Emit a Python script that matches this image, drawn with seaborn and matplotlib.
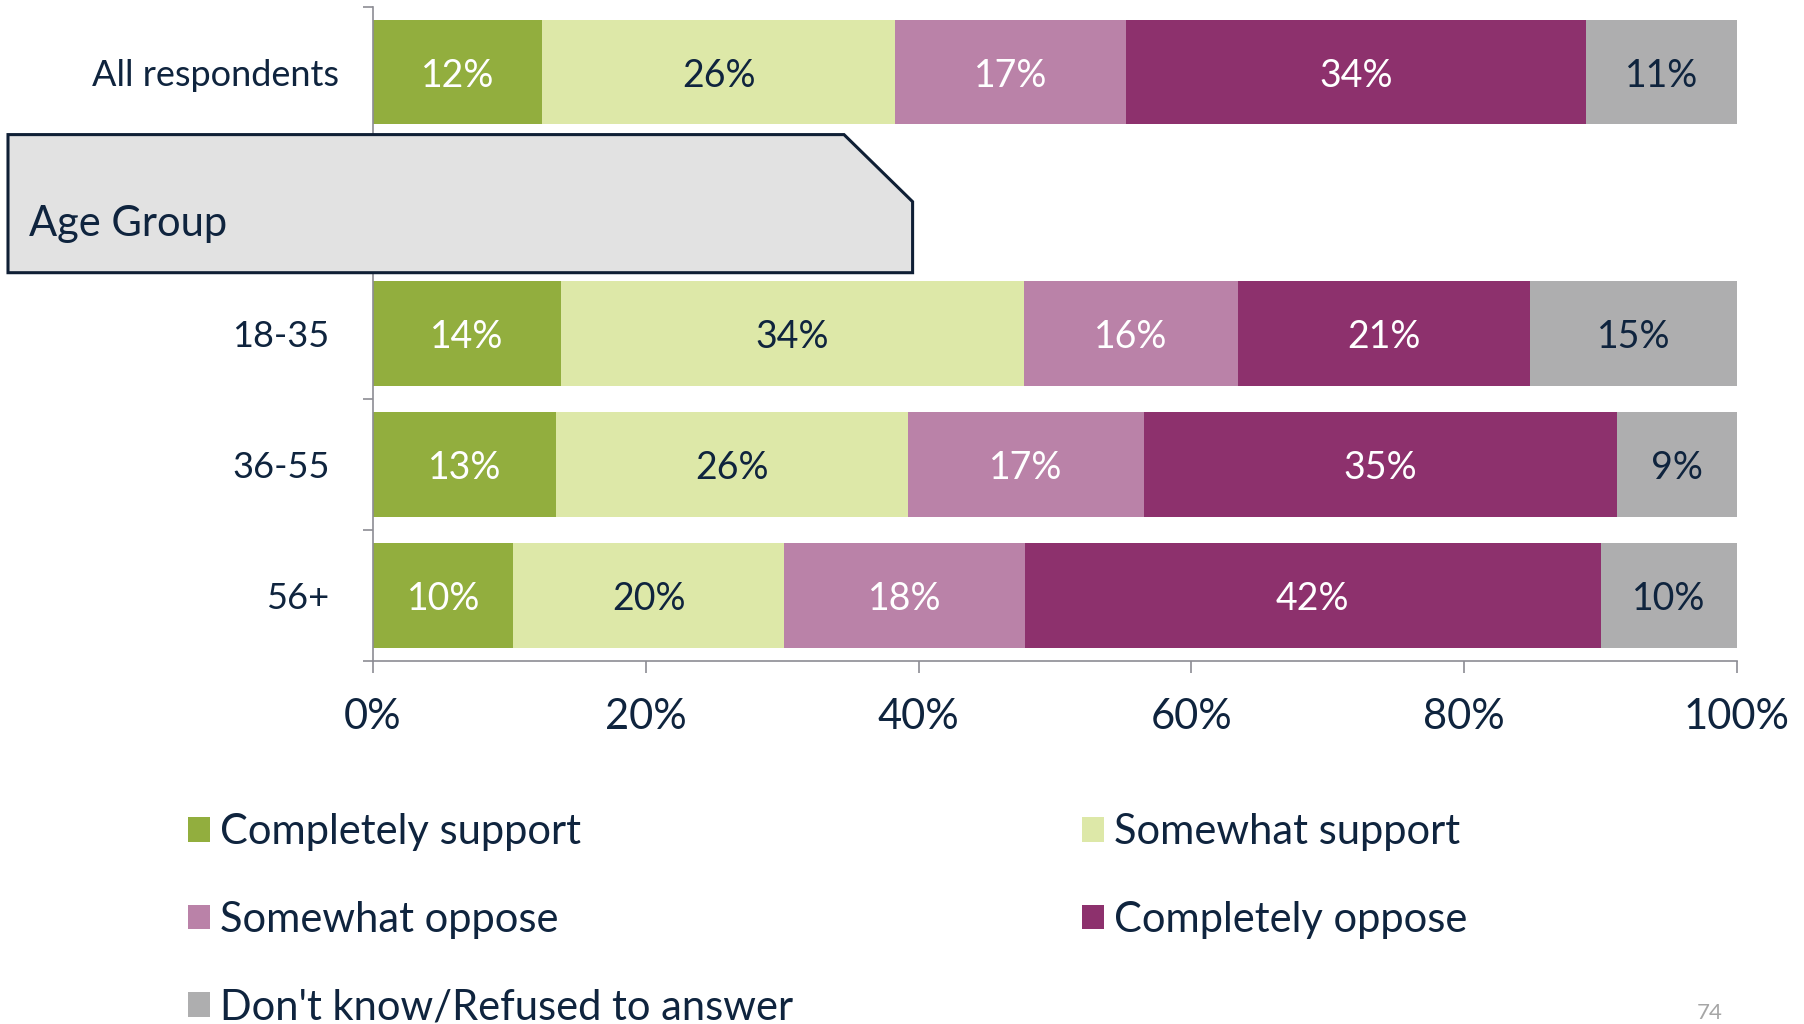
import matplotlib
matplotlib.use("Agg")
import matplotlib.pyplot as plt
import seaborn as sns
import numpy as np
import pandas as pd
from matplotlib.patches import Polygon, Patch
from matplotlib.ticker import FixedLocator

# ---------------- data ----------------
groups = ["All respondents", "18-35", "36-55", "56+"]
order = ["All respondents", " ", "18-35", "36-55", "56+"]
series = ["Completely support", "Somewhat support", "Somewhat oppose",
          "Completely oppose", "Don't know/Refused to answer"]
completely_support = [12.4, 13.8, 13.4, 10.3]
somewhat_support = [25.9, 33.9, 25.8, 19.8]
somewhat_oppose = [16.9, 15.7, 17.3, 17.7]
completely_oppose = [33.7, 21.4, 34.7, 42.2]
dont_know = [11.1, 15.2, 8.8, 10.0]
xticks = [0, 20, 40, 60, 80, 100]
xtick_labels = ["0%", "20%", "40%", "60%", "80%", "100%"]
section_title = "Age Group"
page_number = "74"

colors = ["#92AE3E", "#DDE8A8", "#BA82A8", "#8D316D", "#AEAEAF"]
label_colors = ["white", "#0F243E", "white", "white", "#0F243E"]
NAVY = "#0F243E"
GRAY = "#8C8C94"

values = [completely_support, somewhat_support, somewhat_oppose,
          completely_oppose, dont_know]

rows = []
for s, vals in zip(series, values):
    for g, v in zip(groups, vals):
        rows.append({"group": g, "series": s, "value": v})
df = pd.DataFrame(rows)
df["series"] = pd.Categorical(df["series"], categories=series, ordered=True)
df = df.sort_values(["group", "series"])
df["cum"] = df.groupby("group")["value"].cumsum()
df["start"] = df["cum"] - df["value"]

# ---------------- figure ----------------
sns.set_theme(style="white")
plt.rcParams["font.family"] = ["Lato", "DejaVu Sans"]

W, H = 1804, 1024
fig = plt.figure(figsize=(W / 100, H / 100), dpi=100)
ax_left, ax_right, ax_top, ax_bottom = 373, 1737, 6.7, 660.7
ax = fig.add_axes([ax_left / W, 1 - ax_bottom / H,
                   (ax_right - ax_left) / W, (ax_bottom - ax_top) / H])

for s, c in reversed(list(zip(series, colors))):
    sub = df[df["series"] == s]
    sns.barplot(data=sub, x="cum", y="group", order=order, color=c,
                saturation=1, width=0.8, orient="h", errorbar=None,
                linewidth=0, ax=ax)

for _, r in df.iterrows():
    j = series.index(r["series"])
    ypos = order.index(r["group"])
    ax.text(r["start"] + r["value"] / 2, ypos, f"{round(r['value'])}%",
            ha="center", va="center_baseline", fontsize=27,
            color=label_colors[j])

ax.set_xlim(0, 100)
ax.set_ylim(4.5, -0.5)
ax.set_xlabel("")
ax.set_ylabel("")
ax.set_xticks(xticks)
ax.set_xticklabels(xtick_labels)
ax.yaxis.set_minor_locator(FixedLocator(np.arange(-0.5, 5.0, 1.0)))

for sp in ["top", "right"]:
    ax.spines[sp].set_visible(False)
for sp in ["left", "bottom"]:
    ax.spines[sp].set_color(GRAY)
    ax.spines[sp].set_linewidth(1.2)

ax.tick_params(axis="x", which="major", length=8.6, width=1.2, color=GRAY,
               direction="out", labelsize=30, labelcolor=NAVY, pad=18.6,
               bottom=True)
ax.tick_params(axis="y", which="major", length=0, labelsize=26,
               labelcolor=NAVY, pad=31.3, left=True)
ax.tick_params(axis="y", which="minor", length=7.5, width=1.2, color=GRAY,
               direction="out", left=True)
ax.yaxis.get_major_ticks()[0].set_pad(24.5)

# ---------------- section header box ----------------
pts_px = [(8, 134.6), (844, 134.6), (912.6, 201.7), (912.6, 272.7), (8, 272.7)]
pts = [(x / W, 1 - y / H) for x, y in pts_px]
box = Polygon(pts, closed=True, transform=fig.transFigure,
              facecolor="#E2E2E2", edgecolor="#0F1F35", linewidth=2.2,
              zorder=5)
fig.patches.append(box)
fig.text(28.7 / W, 1 - 236 / H, section_title, fontsize=30, color=NAVY,
         ha="left", va="baseline", zorder=6)

# ---------------- legend ----------------
handles = [Patch(facecolor=c, edgecolor="none", label=s)
           for s, c in zip(series, colors)]
idx = [0, 2, 4, 1, 3]
leg = fig.legend([handles[i] for i in idx], [series[i] for i in idx],
                 ncol=2, loc="upper left",
                 bbox_to_anchor=(187.6 / W, 1 - 813 / H),
                 frameon=False, fontsize=30, handlelength=0.53,
                 handleheight=0.53, handletextpad=0.25,
                 labelspacing=1.19, columnspacing=6.93,
                 borderaxespad=0, borderpad=0)
for t in leg.get_texts():
    t.set_color(NAVY)

fig.text(1710 / W, 1 - 1013 / H, page_number, fontsize=16,
         color="#A6A6A6", ha="center", va="center")

fig.savefig("out.png", dpi=100)
